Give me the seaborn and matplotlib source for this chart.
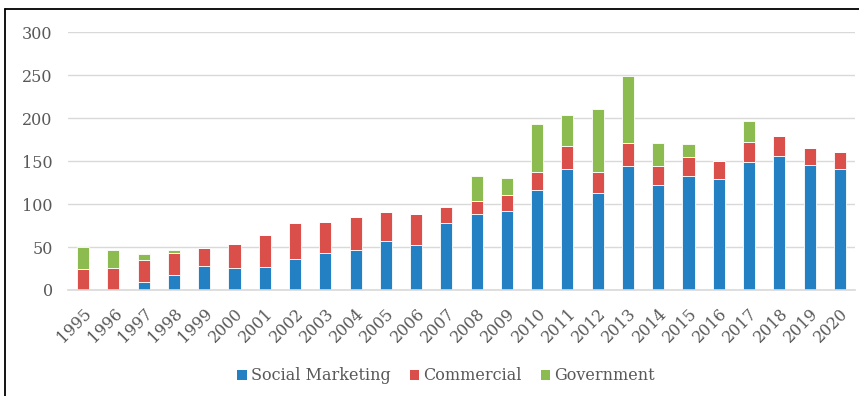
import matplotlib
matplotlib.use("Agg")
import matplotlib.pyplot as plt
from matplotlib.patches import Patch
from matplotlib.lines import Line2D
import seaborn as sns
import pandas as pd
import numpy as np

years = [str(y) for y in range(1995, 2021)]
social = [0, 0, 9, 17, 28, 26, 27, 36, 43, 46, 57, 52, 78, 88, 92, 116, 141, 113, 144, 122, 132, 129, 149, 156, 145, 141]
commercial = [25, 26, 26, 26, 21, 27, 37, 42, 36, 39, 34, 36, 19, 15, 18, 21, 26, 24, 27, 22, 23, 21, 23, 23, 20, 20]
government = [25, 21, 7, 4, 0, 0, 0, 0, 0, 0, 0, 0, 0, 30, 20, 56, 37, 73, 78, 27, 15, 0, 24, 0, 0, 0]
series_names = ["Social Marketing", "Commercial", "Government"]
colors = ["#2381c3", "#da4f4a", "#8cbb4f"]
yticks = [0, 50, 100, 150, 200, 250, 300]

df = pd.DataFrame({"year": years, "social": social, "commercial": commercial, "government": government})

sns.set_style("white")
plt.rcParams["font.family"] = ["DejaVu Serif"]

fig = plt.figure(figsize=(8.59, 3.96), dpi=100)
W, H = 859, 396
ax = fig.add_axes([68 / W, 1 - 290 / H, (855 - 68) / W, (290 - 32) / H])

bottom1 = np.array(social)
bottom2 = bottom1 + np.array(commercial)
kw = dict(width=0.4, edgecolor="white", linewidth=0.6, ax=ax, errorbar=None, saturation=1)
sns.barplot(data=df, x="year", y="social", color=colors[0], **kw)
sns.barplot(data=df, x="year", y="commercial", color=colors[1], bottom=bottom1, **kw)
sns.barplot(data=df, x="year", y="government", color=colors[2], bottom=bottom2, **kw)

ax.set_xlim(-0.5, len(years) - 0.5)
ax.set_ylim(0, 300)
ax.set_yticks(yticks)
ax.set_yticklabels([str(t) for t in yticks], fontsize=11.5, color="#595959")
ax.set_xticks(range(len(years)))
ax.set_xticklabels(years, rotation=45, ha="right", rotation_mode="anchor", fontsize=11.5, color="#595959")
ax.tick_params(axis="both", length=0)
ax.tick_params(axis="y", pad=11)
ax.tick_params(axis="x", pad=11)
ax.set_xlabel("")
ax.set_ylabel("")
ax.yaxis.grid(True, color="#d9d9d9", linewidth=1)
ax.set_axisbelow(True)
for s in ["top", "right", "left"]:
    ax.spines[s].set_visible(False)
ax.spines["bottom"].set_color("#d9d9d9")
ax.spines["bottom"].set_linewidth(1.2)

handles = [Patch(facecolor=c, edgecolor="none") for c in colors]
fig.legend(handles, series_names, loc="center", bbox_to_anchor=(446 / W, 1 - 376 / H), ncol=3,
           frameon=False, fontsize=11.5, handlelength=0.6, handleheight=0.6, handletextpad=0.25,
           columnspacing=1.2, labelcolor="#595959")

# outer frame lines (left and top)
fig.add_artist(Line2D([5 / W, 5 / W], [0, 1 - 9 / H], color="black", linewidth=1.3, transform=fig.transFigure))
fig.add_artist(Line2D([5 / W, 1], [1 - 9 / H, 1 - 9 / H], color="black", linewidth=1.3, transform=fig.transFigure))

fig.savefig("out.png", dpi=100)
